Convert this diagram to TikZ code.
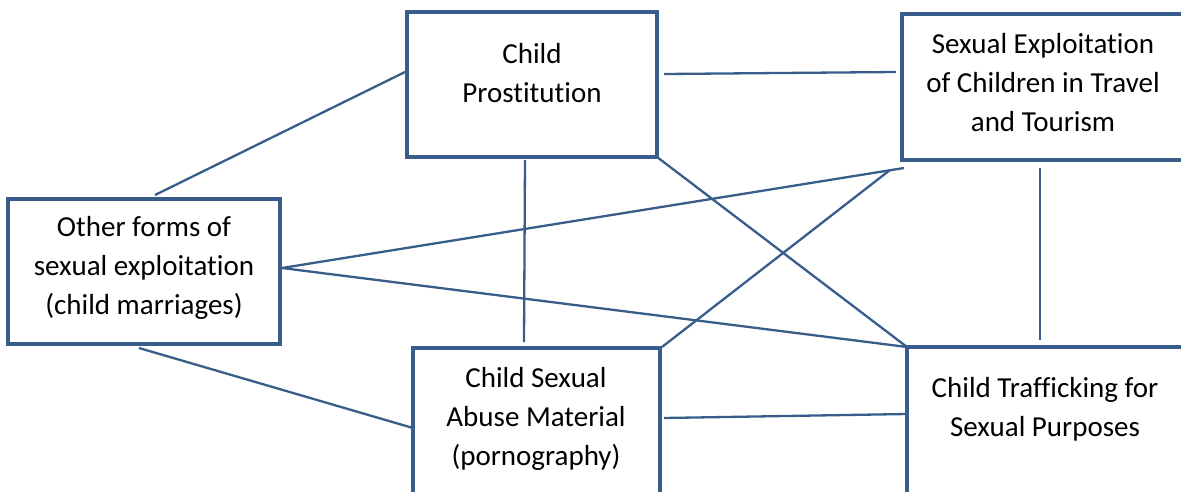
\documentclass[tikz,border=0pt]{standalone}
\usepackage{fontspec}
\setmainfont{Carlito}[RawFeature={-liga;-clig;-calt;-dlig}]
\definecolor{wordblue}{HTML}{385D8A}
\begin{document}
\begin{tikzpicture}[x=1pt,y=-1pt,
  box/.style={draw=wordblue, line width=4pt, rectangle, outer sep=0pt, inner sep=0pt, fill=white},
  lbl/.style={align=center, font=\fontsize{29}{39}\selectfont, text=black, inner sep=0pt},
  conn/.style={draw=wordblue, line width=2.3pt}]
\useasboundingbox (0,0) rectangle (1181,491);
\clip (0,0) rectangle (1181,491);
% boxes
\node[box, minimum width=250pt, minimum height=145pt] (b1) at (532,84.5) {};
\node[box, minimum width=282pt, minimum height=146pt] (b2) at (1043,87) {};
\node[box, minimum width=272pt, minimum height=145pt] (b3) at (144,271.5) {};
\node[box, minimum width=247pt, minimum height=147pt] (b4) at (536.5,421.5) {};
\node[box, minimum width=276pt, minimum height=148pt] (b5) at (1045,421) {};
% connectors
\draw[conn] ([shift={(11,-4)}]b3.north) -- ([shift={(-2,-12.5)}]b1.west);
\draw[conn] ([shift={(7,-10.5)}]b1.east) -- ([shift={(-6,-15)}]b2.west);
\draw[conn] ([shift={(-7,3)}]b1.south) -- ([shift={(-12.5,-6)}]b4.north);
\draw[conn] (b1.south east) -- (b5.north west);
\draw[conn] ([shift={(-3,8)}]b2.south) -- ([shift={(-5,-7)}]b5.north);
\draw[conn] ([shift={(2,8)}]b2.south west) -- ([shift={(2,-3.5)}]b3.east);
\draw[conn] ([shift={(-12,10)}]b2.south west) -- ([shift={(2,-1)}]b4.north east);
\draw[conn] ([shift={(2,-3.5)}]b3.east) -- (b5.north west);
\draw[conn] ([shift={(-5,4)}]b3.south) -- ([shift={(0,6.5)}]b4.west);
\draw[conn] ([shift={(4,-3.5)}]b4.east) -- ([shift={(0,-7)}]b5.west);
% labels
\node[lbl] (t1) at (532,73) {Child\\Prostitution};
\node[lbl] (t2) at (1043,83) {Sexual Exploitation\\of Children in Travel\\and Tourism};
\node[lbl] (t3) at (144,268) {Other forms of\\sexual exploitation\\(child marriages)};
\node[lbl] (t4) at (536,419) {Child Sexual\\Abuse Material\\(pornography)};
\node[lbl] (t5) at (1045,409) {Child Trafficking for\\Sexual Purposes};
\end{tikzpicture}
\end{document}
